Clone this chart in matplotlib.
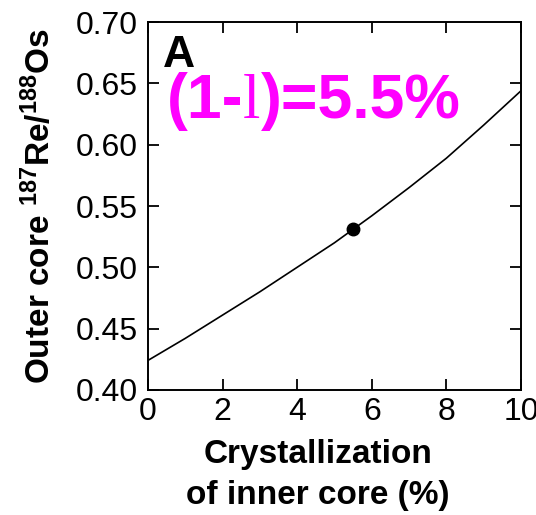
import matplotlib
matplotlib.use("Agg")
from matplotlib import pyplot as plt

# values
crystallization = [0, 1, 2, 3, 4, 5, 5.5, 6, 7, 8, 9, 10]
re_os_ratio = [0.424, 0.442, 0.461, 0.480, 0.500, 0.520, 0.531, 0.542, 0.565, 0.589, 0.616, 0.644]
point_x = [5.5]
point_y = [0.531]
x_ticks = [0, 2, 4, 6, 8, 10]
y_ticks = [0.40, 0.45, 0.50, 0.55, 0.60, 0.65, 0.70]

plt.rcParams["font.family"] = ["Liberation Sans", "DejaVu Sans"]
plt.rcParams["mathtext.fontset"] = "custom"
plt.rcParams["mathtext.rm"] = "Liberation Sans"
plt.rcParams["mathtext.bf"] = "Liberation Sans:bold"

fig = plt.figure(figsize=(5.36, 5.15), dpi=100)
ax = fig.add_axes([0.276, 0.243, 0.696, 0.714])

ax.plot(crystallization, re_os_ratio, color="black", lw=1.2)
ax.plot(point_x, point_y, "o", color="black", markersize=9)

ax.set_xlim(0, 10)
ax.set_ylim(0.40, 0.70)
ax.set_xticks(x_ticks)
ax.set_yticks(y_ticks)
ax.set_yticklabels([f"{v:.2f}" for v in y_ticks])
ax.tick_params(direction="in", length=8, width=1.3, top=True, right=True,
               labelsize=23, colors="black")
ax.tick_params(axis="y", pad=7)
ax.tick_params(axis="x", pad=5)
for s in ax.spines.values():
    s.set_linewidth(1.4)

ax.set_ylabel(r"Outer core $\mathbf{^{187}}$Re/$\mathbf{^{188}}$Os",
              fontsize=24, fontweight="bold", labelpad=14)
ax.set_xlabel("Crystallization\nof inner core (%)", fontsize=24,
              fontweight="bold", linespacing=1.4)
ax.xaxis.set_label_coords(0.455, -0.135)

ax.text(0.04, 0.965, "A", transform=ax.transAxes, fontsize=32,
        fontweight="bold", va="top", ha="left")

# magenta label: bold sans with a serif "l" in the middle
magenta = "#ff00ff"
base_y = 0.738
t1 = ax.text(0.05, base_y, "(1-", transform=ax.transAxes, fontsize=45,
             fontweight="bold", color=magenta, va="baseline", ha="left")
t2 = ax.annotate("l", xy=(1, base_y), xycoords=(t1, "axes fraction"),
                 fontsize=45, family="Liberation Serif", color=magenta,
                 va="baseline", ha="left")
t3 = ax.annotate(")=5.5%", xy=(1, base_y), xycoords=(t2, "axes fraction"),
                 fontsize=45, fontweight="bold", color=magenta,
                 va="baseline", ha="left")

plt.savefig("out.png", dpi=100)
